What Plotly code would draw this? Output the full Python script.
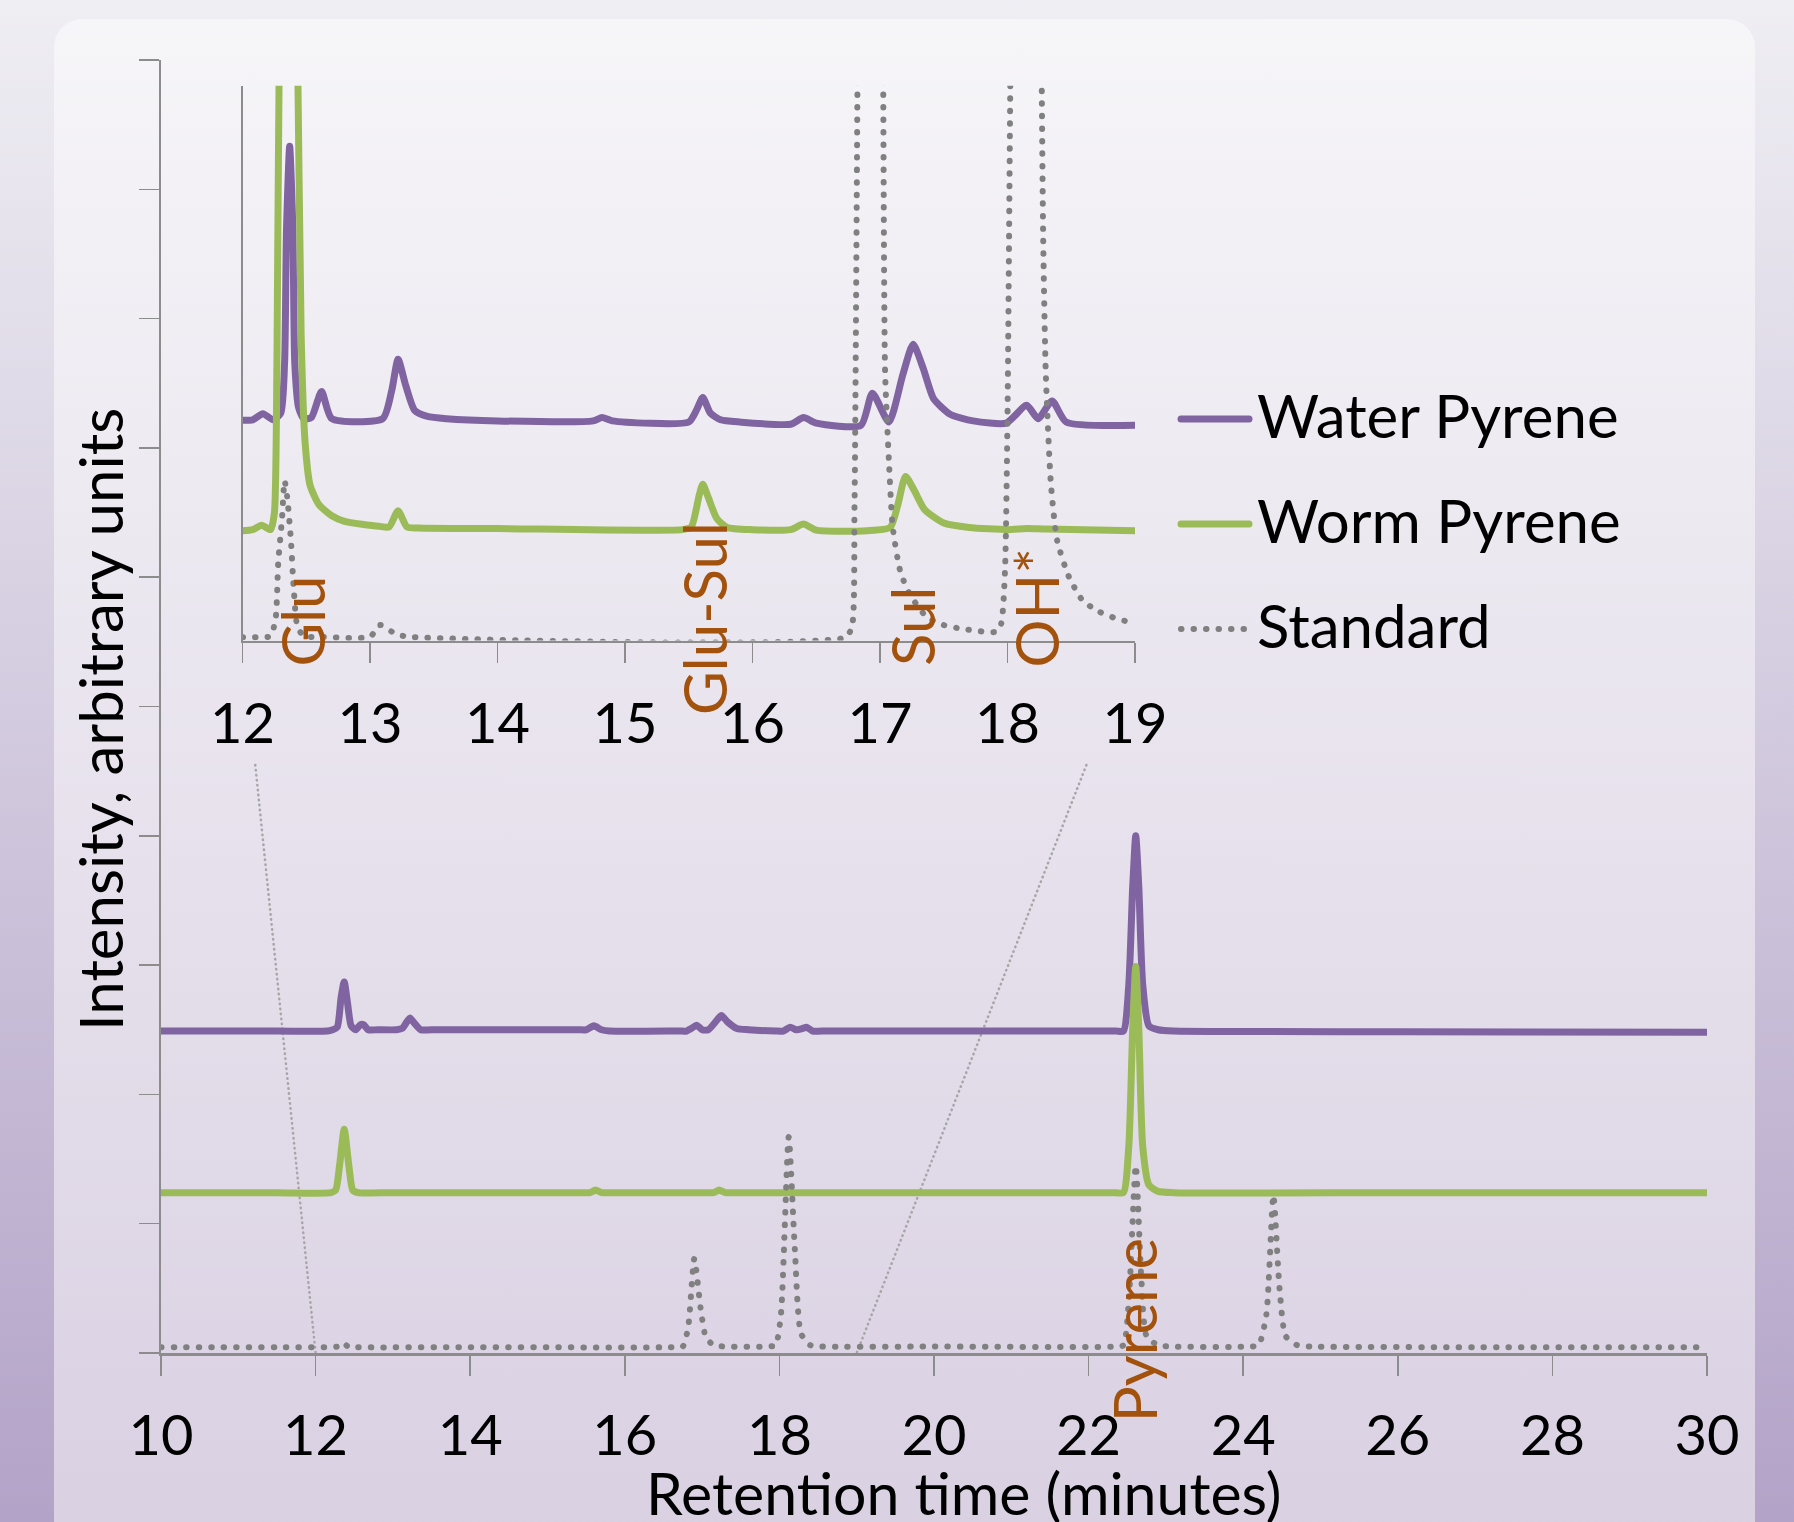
import base64
import plotly.graph_objects as go

# ---------------- data ----------------
# Main chromatogram, retention time (min) vs intensity (arbitrary units)
main_water_t = [10.0, 11.5, 12.15, 12.22, 12.28, 12.33, 12.37, 12.41, 12.46, 12.52, 12.58, 12.62, 12.68,
                12.8, 13.05, 13.12, 13.18, 13.22, 13.28, 13.36, 13.5, 15.4, 15.5, 15.6, 15.7, 15.8,
                16.7, 16.8, 16.86, 16.93, 17.0, 17.08, 17.2, 17.25, 17.33, 17.45, 17.6, 17.95, 18.05,
                18.14, 18.22, 18.3, 18.35, 18.43, 18.55, 20.0, 22.35, 22.45, 22.52, 22.57, 22.61,
                22.65, 22.7, 22.78, 22.9, 23.1, 26.0, 30.0]
main_water_v = [2.49, 2.49, 2.49, 2.5, 2.52, 2.75, 2.87, 2.72, 2.53, 2.5, 2.54, 2.54, 2.5,
                2.5, 2.5, 2.51, 2.56, 2.59, 2.55, 2.5, 2.5, 2.5, 2.5, 2.53, 2.5, 2.49,
                2.49, 2.49, 2.51, 2.535, 2.5, 2.5, 2.58, 2.61, 2.56, 2.51, 2.5, 2.49, 2.49,
                2.52, 2.5, 2.51, 2.52, 2.49, 2.49, 2.49, 2.49, 2.49, 2.85, 3.6, 4.0,
                3.6, 2.85, 2.53, 2.5, 2.49, 2.485, 2.48]

main_worm_t = [10.0, 11.5, 12.2, 12.26, 12.31, 12.37, 12.43, 12.48, 12.55, 13.0, 15.45, 15.55, 15.62,
               15.7, 15.8, 17.05, 17.15, 17.22, 17.3, 17.4, 20.0, 22.35, 22.45, 22.52, 22.57, 22.61,
               22.65, 22.7, 22.78, 22.9, 23.1, 26.0, 30.0]
main_worm_v = [1.24, 1.24, 1.24, 1.26, 1.45, 1.73, 1.45, 1.26, 1.24, 1.24, 1.24, 1.24, 1.26,
               1.24, 1.24, 1.24, 1.24, 1.26, 1.24, 1.24, 1.24, 1.24, 1.24, 1.6, 2.5, 2.99,
               2.5, 1.6, 1.3, 1.25, 1.24, 1.24, 1.24]

main_std_t = [10.0, 11.5, 12.2, 12.28, 12.35, 12.42, 12.5, 14.0, 16.65, 16.75, 16.82, 16.9, 16.98,
              17.05, 17.15, 17.3, 17.85, 17.95, 18.02, 18.12, 18.2, 18.28, 18.4, 18.55, 20.0, 22.35,
              22.45, 22.52, 22.61, 22.68, 22.75, 22.9, 23.1, 24.1, 24.2, 24.3, 24.39, 24.47, 24.55,
              24.7, 24.9, 27.0, 30.0]
main_std_v = [0.045, 0.045, 0.045, 0.05, 0.08, 0.05, 0.045, 0.045, 0.045, 0.05, 0.2, 0.73, 0.35,
              0.12, 0.06, 0.05, 0.05, 0.06, 0.3, 1.67, 0.8, 0.15, 0.06, 0.05, 0.05, 0.05,
              0.06, 0.4, 1.45, 0.6, 0.13, 0.06, 0.05, 0.05, 0.06, 0.3, 1.22, 0.5, 0.13,
              0.06, 0.05, 0.045, 0.045]

# Inset (zoom on 12-19 min)
inset_water_t = [12.0, 12.08, 12.16, 12.24, 12.3, 12.33, 12.345, 12.37, 12.395, 12.41, 12.44, 12.48,
                 12.54, 12.62, 12.7, 13.1, 13.17, 13.22, 13.28, 13.35, 13.45, 13.6, 14.0, 14.75, 14.82,
                 14.9, 15.5, 15.56, 15.61, 15.67, 15.75, 15.9, 16.3, 16.4, 16.5, 16.85, 16.94, 17.07,
                 17.18, 17.26, 17.34, 17.42, 17.55, 17.73, 17.99, 18.15, 18.24, 18.35, 18.46, 19.0]
inset_water_v = [3.97, 3.98, 4.09, 3.98, 4.1, 5.0, 7.4, 8.91, 7.4, 5.0, 4.2, 4.0,
                 4.02, 4.49, 4.0, 4.0, 4.5, 5.07, 4.6, 4.15, 4.04, 4.0, 3.96, 3.96, 4.02,
                 3.96, 3.94, 4.15, 4.38, 4.1, 3.98, 3.94, 3.9, 4.02, 3.92, 3.88, 4.46, 3.94,
                 4.8, 5.34, 4.9, 4.36, 4.08, 3.96, 3.92, 4.24, 4.0, 4.32, 3.94, 3.88]

inset_worm_t = [12.0, 12.08, 12.15, 12.22, 12.25, 12.27, 12.29, 12.36, 12.43, 12.46, 12.49, 12.53,
                12.6, 12.7, 12.8, 13.07, 13.15, 13.22, 13.29, 13.38, 14.0, 15.45, 15.52, 15.58,
                15.61, 15.65, 15.72, 15.8, 16.0, 16.3, 16.4, 16.5, 16.9, 17.08, 17.14, 17.2, 17.27,
                17.35, 17.5, 17.7, 18.0, 18.15, 18.3, 19.0]
inset_worm_v = [1.98, 2.0, 2.08, 2.0, 2.3, 5.0, 11.0, 20.0, 11.0, 5.5, 3.6, 2.8,
                2.45, 2.25, 2.15, 2.06, 2.05, 2.34, 2.05, 2.03, 2.02, 2.0, 2.05, 2.6,
                2.82, 2.6, 2.2, 2.04, 2.0, 2.0, 2.1, 1.99, 1.98, 2.04, 2.45, 2.96, 2.7,
                2.36, 2.12, 2.04, 2.0, 2.02, 2.01, 1.98]

inset_std_t = [12.0, 12.15, 12.22, 12.26, 12.28, 12.31, 12.33, 12.35, 12.38, 12.4, 12.43, 12.48, 12.6,
               13.0, 13.08, 13.2, 13.3, 16.73, 16.78, 16.8, 16.83, 16.92, 17.02, 17.04, 17.07, 17.1,
               17.16, 17.23, 17.36, 17.5, 17.68, 17.91, 17.95, 17.98, 18.0, 18.03, 18.14, 18.26,
               18.28, 18.3, 18.34, 18.39, 18.48, 18.59, 18.72, 18.85, 18.95, 19.0]
inset_std_v = [0.06, 0.06, 0.08, 0.4, 1.4, 2.2, 2.88, 2.6, 1.8, 1.0, 0.26, 0.08, 0.07,
               0.07, 0.28, 0.12, 0.07, 0.06, 0.25, 2.4, 12.0, 30.0, 12.0, 4.84, 3.24, 2.04,
               1.24, 0.85, 0.44, 0.28, 0.2, 0.16, 0.3, 1.24, 4.04, 12.0, 30.0, 12.0,
               7.24, 4.84, 2.84, 1.8, 1.16, 0.72, 0.52, 0.4, 0.34, 0.32]

series_names = ["Water Pyrene", "Worm Pyrene", "Standard"]
peak_labels = ["Glu", "Glu-Sul", "Sul", "OH*"]
peak_label_t = [12.47, 15.62, 17.25, 18.22]
peak_label_y = [0.35, 0.39, 0.26, 0.59]
main_label = "Pyrene"
main_label_t = 22.58
main_label_y = 0.18
main_x_ticks = [10, 12, 14, 16, 18, 20, 22, 24, 26, 28, 30]
inset_x_ticks = [12, 13, 14, 15, 16, 17, 18, 19]
main_y_ticks = list(range(0, 11))

# ---------------- style ----------------
W, H = 1794, 1522
ML, MR, MT, MB = 161, 87, 60, 169
PW, PH = W - ML - MR, H - MT - MB
FONT = "Lato"
PURPLE, GREEN, GRAY = "#8064a2", "#9bbb59", "#808080"
AXIS = "#8c8c8c"
BROWN = "#a3520d"
colors = [PURPLE, GREEN, GRAY]
DOTS = "0.5px,12px"


def px_x(p):
    return (p - ML) / PW


def px_y(p):
    return (H - MB - p) / PH


inset_dom_x = [px_x(242.5), px_x(1135)]
inset_dom_y = [px_y(640.6), px_y(85.8)]

fig = go.Figure()

solid = dict(width=7)
std_line = dict(width=6, dash=DOTS)

main_sets = [(main_water_t, main_water_v), (main_worm_t, main_worm_v), (main_std_t, main_std_v)]
inset_sets = [(inset_water_t, inset_water_v), (inset_worm_t, inset_worm_v), (inset_std_t, inset_std_v)]

for axes, sets in ((("x", "y"), main_sets), (("x2", "y2"), inset_sets)):
    for i, (t, v) in enumerate(sets):
        ln = dict(std_line) if i == 2 else dict(solid)
        ln["color"] = colors[i]
        ln["shape"] = "spline"
        ln["smoothing"] = 0.6
        fig.add_trace(go.Scatter(x=t, y=v, mode="lines", line=ln, name=series_names[i],
                                 showlegend=False, xaxis=axes[0], yaxis=axes[1], hoverinfo="skip"))

# background (outer gradient + rounded panel)
svg = f'''<svg xmlns="http://www.w3.org/2000/svg" width="{W}" height="{H}" viewBox="0 0 {W} {H}">
<defs>
<linearGradient id="o" x1="0" y1="0" x2="0" y2="1"><stop offset="0" stop-color="#efeef3"/><stop offset="1" stop-color="#b3a3c8"/></linearGradient>
<linearGradient id="p" x1="0" y1="0" x2="0" y2="1"><stop offset="0" stop-color="#f6f5f8"/><stop offset="1" stop-color="#d9d0e2"/></linearGradient>
</defs>
<rect width="{W}" height="{H}" fill="url(#o)"/>
<rect x="54" y="19" width="1701" height="1535" rx="28" ry="28" fill="url(#p)"/>
</svg>'''
uri = "data:image/svg+xml;base64," + base64.b64encode(svg.encode()).decode()
fig.add_layout_image(dict(source=uri, xref="paper", yref="paper", x=-ML / PW, y=1 + MT / PH,
                          sizex=W / PW, sizey=H / PH, xanchor="left", yanchor="top",
                          sizing="stretch", layer="below"))

tickfont = dict(family=FONT, size=56, color="black")

fig.update_layout(
    width=W, height=H,
    margin=dict(l=ML, r=MR, t=MT, b=MB, pad=0),
    paper_bgcolor="rgba(0,0,0,0)", plot_bgcolor="rgba(0,0,0,0)",
    font=dict(family=FONT, color="black"),
    hovermode=False,
    xaxis=dict(range=[10, 30], tickvals=main_x_ticks, showgrid=False, zeroline=False,
               showline=True, linecolor=AXIS, linewidth=2.5, ticks="outside", ticklen=20,
               tickwidth=1.5, tickcolor=AXIS, tickfont=tickfont, ticklabelstandoff=12),
    yaxis=dict(range=[0, 10], tickvals=main_y_ticks, showgrid=False, zeroline=False,
               showline=True, linecolor=AXIS, linewidth=2, ticks="outside", ticklen=20,
               tickwidth=1.5, tickcolor=AXIS, showticklabels=False),
    xaxis2=dict(domain=inset_dom_x, anchor="y2", range=[12, 19], tickvals=inset_x_ticks,
                showgrid=False, zeroline=False, showline=True, linecolor=AXIS, linewidth=2,
                ticks="outside", ticklen=20, tickwidth=1.5, tickcolor=AXIS, tickfont=tickfont,
                ticklabelstandoff=13),
    yaxis2=dict(domain=inset_dom_y, anchor="x2", range=[0, 10], showgrid=False, zeroline=False,
                showline=True, linecolor=AXIS, linewidth=1.5, ticks="", showticklabels=False),
)

# connector lines from inset ends to the main axis (computed from axis geometry)
y_cut = px_y(765)
for t_val in (inset_x_ticks[0], inset_x_ticks[-1]):
    xs = inset_dom_x[0] + (t_val - 12) / (19 - 12) * (inset_dom_x[1] - inset_dom_x[0])
    ys = inset_dom_y[0]
    xe = (t_val - 10) / (30 - 10)
    ye = 0.0
    f = (ys - y_cut) / (ys - ye)
    x0 = xs + (xe - xs) * f
    fig.add_shape(type="line", xref="paper", yref="paper", x0=x0, y0=y_cut, x1=xe, y1=ye,
                  line=dict(color="#a6a6a6", width=2.5, dash="0.5px,4.5px"), layer="below")

# peak labels (rotated)
for lab, tx, ty in zip(peak_labels, peak_label_t, peak_label_y):
    fig.add_annotation(x=tx, y=ty, xref="x2", yref="y2", text=lab, textangle=-90, showarrow=False,
                       xanchor="center", yanchor="middle", font=dict(family=FONT, size=60, color=BROWN))
fig.add_annotation(x=main_label_t, y=main_label_y, xref="x", yref="y", text=main_label, textangle=-90,
                   showarrow=False, xanchor="center", yanchor="middle",
                   font=dict(family=FONT, size=60, color=BROWN))

# axis titles
fig.add_annotation(x=px_x(964), y=px_y(1492), xref="paper", yref="paper", text="Retention time (minutes)",
                   showarrow=False, xanchor="center", yanchor="middle",
                   font=dict(family=FONT, size=59, color="black"))
fig.add_annotation(x=px_x(100), y=px_y(720), xref="paper", yref="paper", text="Intensity, arbitrary units",
                   textangle=-90, showarrow=False, xanchor="center", yanchor="middle",
                   font=dict(family=FONT, size=60, color="black"))

# legend (custom)
leg_y = [419, 524, 629]
for name, col, ly, i in zip(series_names, colors, leg_y, range(3)):
    ln = dict(color=col, width=7) if i < 2 else dict(color=col, width=6, dash=DOTS)
    fig.add_shape(type="line", xref="paper", yref="paper", x0=px_x(1181), x1=px_x(1249),
                  y0=px_y(ly), y1=px_y(ly), line=ln)
    fig.add_annotation(x=px_x(1255), y=px_y(ly - 4), xref="paper", yref="paper", text=name,
                       showarrow=False, xanchor="left", yanchor="middle",
                       font=dict(family=FONT, size=60, color="black"))

post = (
    "document.body.style.margin='0px';document.body.style.overflow='hidden';"
    "var s=document.createElement('style');"
    "s.textContent='.scatterlayer path.js-line, .shapelayer path{stroke-linecap:round !important;}';"
    "document.head.appendChild(s);"
)
fig.write_html("out.html", config={"displayModeBar": False, "staticPlot": True}, post_script=post)
